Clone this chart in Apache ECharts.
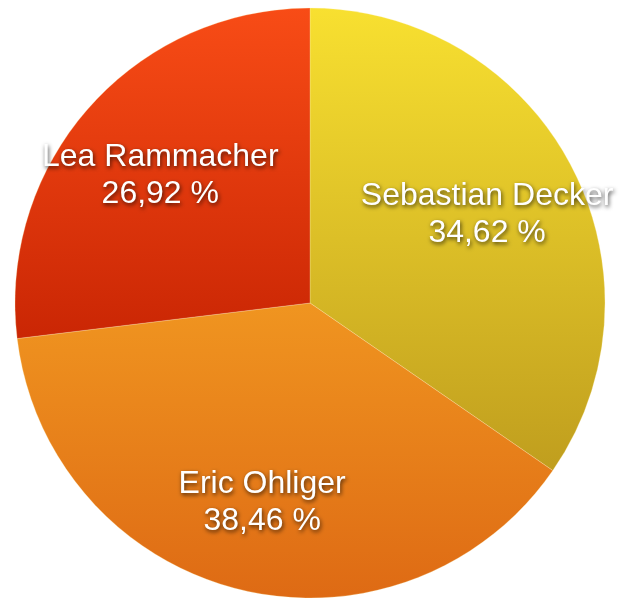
<!DOCTYPE html>
<html>
<head>
<meta charset="utf-8">
<script src="https://cdn.jsdelivr.net/npm/echarts@6/dist/echarts.min.js"></script>
<style>
html,body{margin:0;padding:0;background:#fff;}
#c{width:627px;height:598px;}
</style>
</head>
<body>
<div id="c"></div>
<script>
const names = ['Sebastian Decker', 'Eric Ohliger', 'Lea Rammacher'];
const values = [9, 10, 7];
const topColors = ['#f8e030', '#f09520', '#f84c16'];
const bottomColors = ['#c09e1e', '#de6a14', '#ca2604'];

const chart = echarts.init(document.getElementById('c'));
const CENTER = [310, 303];
const R = 295;

const sliceData = names.map((n, i) => ({
  name: n,
  value: values[i],
  itemStyle: {
    color: new echarts.graphic.LinearGradient(0, 0, 0, 1, [
      { offset: 0, color: topColors[i] },
      { offset: 1, color: bottomColors[i] }
    ])
  }
}));
const labelData = names.map((n, i) => ({ name: n, value: values[i] }));

chart.setOption({
  animation: false,
  series: [
    {
      type: 'pie',
      center: CENTER,
      radius: [0, R],
      startAngle: 90,
      clockwise: true,
      silent: true,
      itemStyle: { borderColor: 'rgba(255,245,190,0.45)', borderWidth: 0.6 },
      label: { show: false },
      labelLine: { show: false },
      data: sliceData
    },
    {
      type: 'pie',
      center: CENTER,
      radius: [99, R],
      startAngle: 90,
      clockwise: true,
      silent: true,
      percentPrecision: 2,
      itemStyle: { color: 'rgba(0,0,0,0)' },
      labelLine: { show: false },
      label: {
        show: true,
        position: 'inside',
        formatter: p => p.name + '\n' + p.percent.toFixed(2).replace('.', ',') + ' %',
        color: '#ffffff',
        fontFamily: 'Liberation Sans, Arial, Helvetica, sans-serif',
        fontSize: 32,
        lineHeight: 37,
        align: 'center',
        offset: [0, 5],
        textShadowColor: 'rgba(0,0,0,0.7)',
        textShadowBlur: 4,
        textShadowOffsetX: 1,
        textShadowOffsetY: 2
      },
      data: labelData
    }
  ]
});
</script>
</body>
</html>
